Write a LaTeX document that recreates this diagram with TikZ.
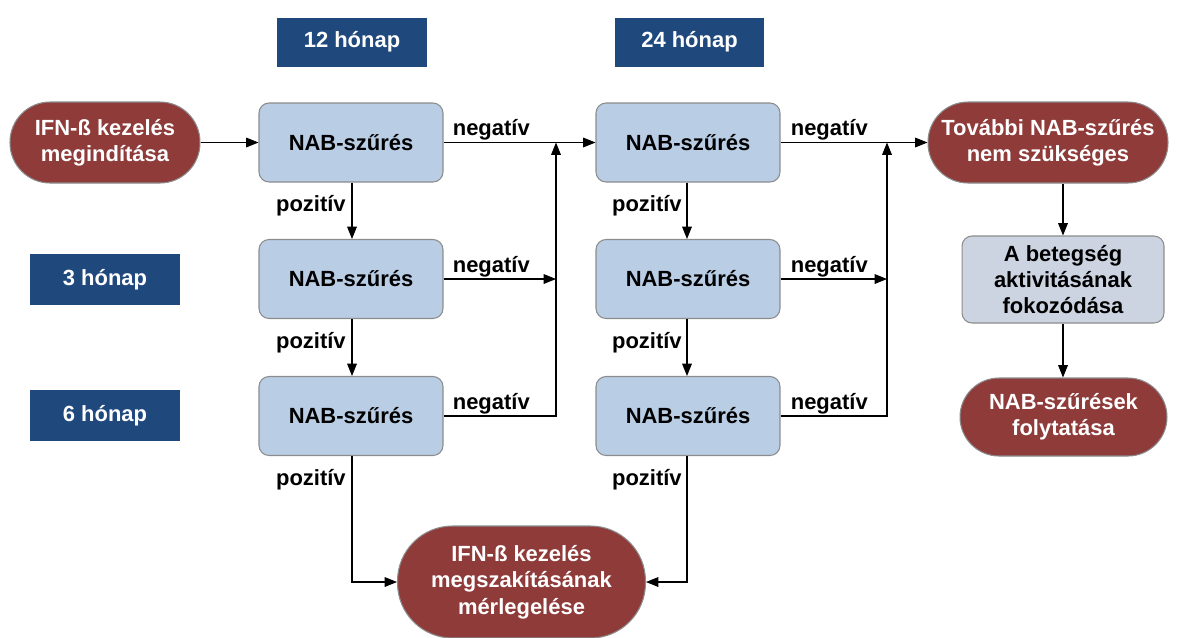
\documentclass[tikz,border=0pt]{standalone}
\usepackage{fontspec}
\setmainfont{Liberation Sans}
\usetikzlibrary{arrows.meta}
\definecolor{pillred}{HTML}{8E3B3A}
\definecolor{hdrblue}{HTML}{1F497D}
\definecolor{boxblue}{HTML}{B9CDE5}
\definecolor{boxgrey}{HTML}{CDD4E1}
\definecolor{edgegrey}{HTML}{8C8C8C}
\begin{document}
\begin{tikzpicture}[x=0.02cm,y=-0.02cm,
  every node/.style={font=\bfseries\fontsize{12.5}{15}\selectfont, align=center},
  hdr/.style={fill=hdrblue, text=white, minimum width=3cm, minimum height=0.98cm, inner sep=0pt},
  nab/.style={fill=boxblue, draw=edgegrey, line width=0.6pt, rounded corners=0.2cm, minimum width=3.68cm, minimum height=1.58cm, inner sep=0pt},
  pill/.style={fill=pillred, draw=edgegrey, line width=0.6pt, text=white, rounded corners=0.8cm, minimum height=1.62cm, inner sep=0pt},
  gbox/.style={fill=boxgrey, draw=edgegrey, line width=0.6pt, rounded corners=0.2cm, minimum width=4.04cm, minimum height=1.74cm, inner sep=0pt},
  lbl/.style={inner sep=0pt},
  arr/.style={line width=0.6pt, -{Triangle[length=7pt,width=5.5pt]}},
  ln/.style={line width=0.6pt}]
\useasboundingbox (0,0) rectangle (1194,637);
% header boxes
\node[hdr] (t12) at (352,42) {12 hónap};
\node[hdr] (t24) at (689.5,42) {24 hónap};
\node[hdr, minimum height=1.02cm] (t3) at (105,279.5) {3 hónap};
\node[hdr, minimum height=1.02cm] (t6) at (105,415.5) {6 hónap};
% main nodes
\node[pill, minimum width=3.8cm] (start) at (105,142.5) {IFN-ß kezelés\\megindítása};
\node[nab] (a1) at (351,142.5) {NAB-szűrés};
\node[nab] (a2) at (351,279) {NAB-szűrés};
\node[nab] (a3) at (351,416) {NAB-szűrés};
\node[nab] (b1) at (688,142.5) {NAB-szűrés};
\node[nab] (b2) at (688,279) {NAB-szűrés};
\node[nab] (b3) at (688,416) {NAB-szűrés};
\node[pill, minimum width=4.8cm] (further) at (1048,142.5) {További NAB-szűrés\\nem szükséges};
\node[gbox] (act) at (1063,279.5) {A betegség\\aktivitásának\\fokozódása};
\node[pill, minimum width=4.14cm, minimum height=1.56cm, rounded corners=0.78cm] (cont) at (1063.5,417) {NAB-szűrések\\folytatása};
\node[pill, minimum width=4.96cm, minimum height=2.24cm, rounded corners=1.1cm] (stop) at (521.5,582) {IFN-ß kezelés\\megszakításának\\mérlegelése};
\coordinate (j1) at (556,142.5);
\coordinate (j2) at (887,142.5);
% connectors
\draw[arr] (start) -- (a1);
\draw[arr] (a1) -- (b1);
\draw[arr] (b1) -- (further);
\draw[arr] (a2.east) -- (a2.east -| j1);
\draw[arr] (a3.east) -| (j1);
\draw[arr] (b2.east) -- (b2.east -| j2);
\draw[arr] (b3.east) -| (j2);
\draw[arr] ([xshift=0.02cm]a1.south) -- ([xshift=0.02cm]a2.north);
\draw[arr] ([xshift=0.02cm]a2.south) -- ([xshift=0.02cm]a3.north);
\draw[arr] ([xshift=-0.02cm]b1.south) -- ([xshift=-0.02cm]b2.north);
\draw[arr] ([xshift=-0.02cm]b2.south) -- ([xshift=-0.02cm]b3.north);
\draw[arr] ([xshift=0.02cm]a3.south) |- (stop.west);
\draw[arr] ([xshift=-0.02cm]b3.south) |- (stop.east);
\draw[arr] (further.south -| act.north) -- (act.north);
\draw[arr] (act.south) -- (act.south |- cont.north);
% labels
\node[lbl, anchor=base west] (n1) at ([shift={(9,-7)}]a1.east) {negatív};
\node[lbl, anchor=base west] (n2) at ([shift={(9,-7)}]a2.east) {negatív};
\node[lbl, anchor=base west] (n3) at ([shift={(9,-7)}]a3.east) {negatív};
\node[lbl, anchor=base west] (n4) at ([shift={(10,-7)}]b1.east) {negatív};
\node[lbl, anchor=base west] (n5) at ([shift={(10,-7)}]b2.east) {negatív};
\node[lbl, anchor=base west] (n6) at ([shift={(10,-7)}]b3.east) {negatív};
\node[lbl, anchor=base east] (p1) at ([shift={(-5,29)}]a1.south) {pozitív};
\node[lbl, anchor=base east] (p2) at ([shift={(-5,29)}]a2.south) {pozitív};
\node[lbl, anchor=base east] (p3) at ([shift={(-5,29)}]a3.south) {pozitív};
\node[lbl, anchor=base east] (p4) at ([shift={(-6,29)}]b1.south) {pozitív};
\node[lbl, anchor=base east] (p5) at ([shift={(-6,29)}]b2.south) {pozitív};
\node[lbl, anchor=base east] (p6) at ([shift={(-6,29)}]b3.south) {pozitív};
\end{tikzpicture}
\end{document}
